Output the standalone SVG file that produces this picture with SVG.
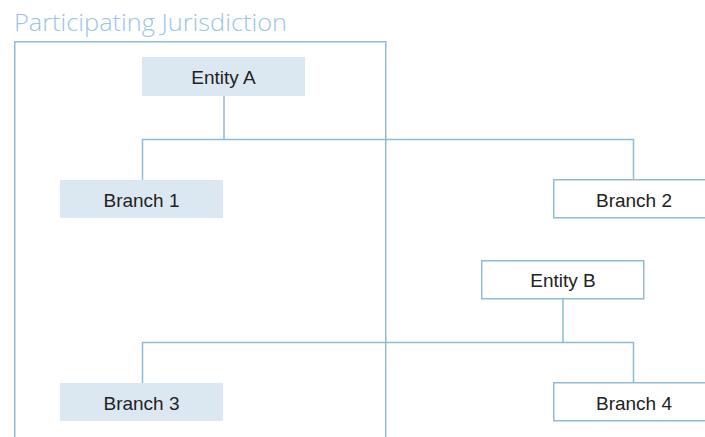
<svg xmlns="http://www.w3.org/2000/svg" width="705" height="437" viewBox="0 0 705 437">
  <style>
    .title { font-family: "Open Sans", "Liberation Sans", sans-serif; font-weight: 300; font-size: 24px; fill: #9dc3e6; }
    .frame { fill: none; stroke: #8fbcd4; stroke-width: 1.5; }
    .filled { fill: #dce8f1; }
    .outlined { fill: #ffffff; stroke: #8fbcd4; stroke-width: 1.5; }
    .label { font-family: "Liberation Sans", Arial, sans-serif; font-size: 19px; fill: #222222; text-anchor: middle; }
    .wire { fill: none; stroke: #8fbcd4; stroke-width: 1.5; }
  </style>

  <text class="title" x="14" y="31" textLength="273" lengthAdjust="spacingAndGlyphs">Participating Jurisdiction</text>
  <path class="frame" d="M14.75,440 V41.75 H385.75 V440"/>

  <g id="connectors">
    <path class="wire" d="M224,96 V139.5 M142.5,180 V139.5 H633.5 V179"/>
    <path class="wire" d="M563,299 V342.5 M142.5,383 V342.5 H633.5 V382"/>
  </g>

  <g id="entity-a">
    <rect class="filled" x="142" y="57" width="163" height="39"/>
    <text class="label" x="223.5" y="83.5">Entity A</text>
  </g>
  <g id="branch-1">
    <rect class="filled" x="60" y="180" width="163" height="38"/>
    <text class="label" x="141.5" y="206.5">Branch 1</text>
  </g>
  <g id="branch-2">
    <rect class="outlined" x="553.75" y="179.75" width="162" height="38"/>
    <text class="label" x="634" y="206.5">Branch 2</text>
  </g>
  <g id="entity-b">
    <rect class="outlined" x="481.75" y="260.75" width="162" height="38"/>
    <text class="label" x="563" y="287">Entity B</text>
  </g>
  <g id="branch-3">
    <rect class="filled" x="60" y="383" width="163" height="38"/>
    <text class="label" x="141.5" y="409.5">Branch 3</text>
  </g>
  <g id="branch-4">
    <rect class="outlined" x="553.75" y="382.75" width="162" height="38"/>
    <text class="label" x="634" y="409.5">Branch 4</text>
  </g>
</svg>
